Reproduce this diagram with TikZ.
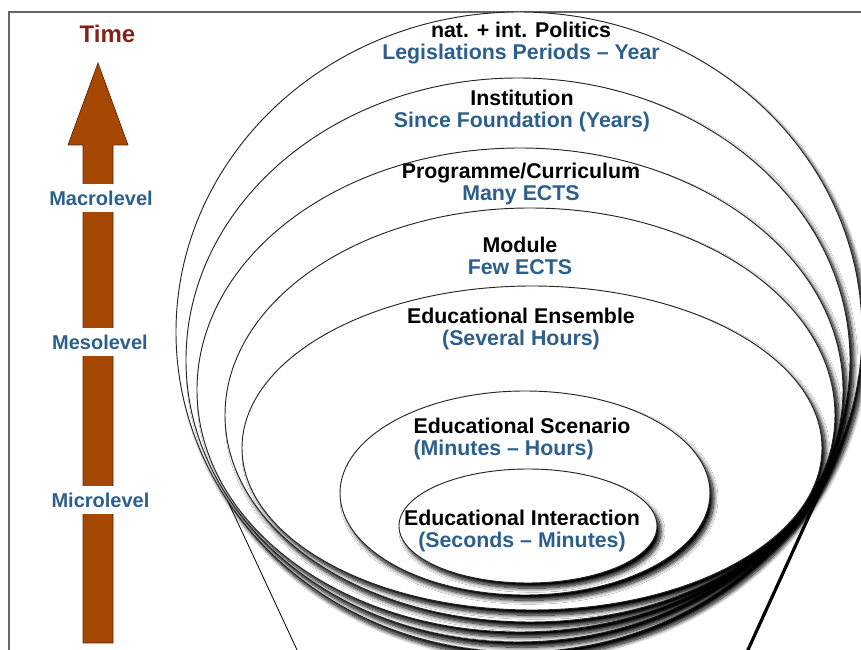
\documentclass[tikz,border=0pt]{standalone}
\usepackage{fontspec}
\setmainfont{Liberation Sans}
\usetikzlibrary{shadows.blur}
\definecolor{rust}{RGB}{166,72,4}
\definecolor{rustline}{RGB}{95,35,5}
\definecolor{timered}{RGB}{130,35,25}
\definecolor{levelblue}{RGB}{44,95,140}
\tikzset{
    ring/.style={draw=black!85, line width=0.7pt, fill=white,
        blur shadow={shadow xshift=3pt, shadow yshift=-4pt, shadow blur radius=3pt, shadow blur steps=12, shadow opacity=100}}, % the nested ellipses
    ringlabel/.style={font=\bfseries\fontsize{16}{16.5}\selectfont, align=center}, % black name + blue time span
    levellabel/.style={font=\bfseries\fontsize{15}{15}\selectfont, text=levelblue, fill=white, inner xsep=1pt, inner ysep=0pt, minimum height=21pt}, % cuts the arrow
    funnel/.style={line width=0.6pt}, % lines under the rings
}

\begin{document}
\begin{tikzpicture}[x=0.75pt, y=0.75pt]
    \useasboundingbox (0,0) rectangle (861,650);
    \draw[black!60, line width=0.8pt] (9,-5) |- (870,638);

    \coordinate (funL top) at (190,230);
    \coordinate (funL bot) at (298,-2);
    \coordinate (funR top) at (830,180);
    \coordinate (funR bot) at (747,-2);
    \draw[funnel] (funL top) -- (funL bot);
    \draw[funnel, line width=2.4pt] (funR top) -- (funR bot);

    % rings, outer to inner
    \path[ring] (519,318) ellipse [x radius=343, y radius=320];
    \path[ring] (518,290) ellipse [x radius=332, y radius=282];
    \path[ring] (520,260) ellipse [x radius=323, y radius=242];
    \path[ring] (530,235) ellipse [x radius=305, y radius=207];
    \path[ring] (532,202) ellipse [x radius=290, y radius=162];
    \path[ring] (525,157) ellipse [x radius=185, y radius=102];
    \path[ring] (528,124) ellipse [x radius=129, y radius=57];

    \node[ringlabel] (politics) at (521,606.5) {nat. + int. Politics\\\textcolor{levelblue}{Legislations Periods – Year}};
    \node[ringlabel] (institution) at (522,539) {Institution\\\textcolor{levelblue}{Since Foundation (Years)}};
    \node[ringlabel] (programme) at (521,466) {Programme/Curriculum\\\textcolor{levelblue}{Many ECTS}};
    \node[ringlabel] (module) at (520,394) {Module\\\textcolor{levelblue}{Few ECTS}};
    \node[ringlabel] (ensemble) at (521,321.5) {Educational Ensemble\\\textcolor{levelblue}{(Several Hours)}};
    \node[ringlabel, align=left] (scenario) at (522,211.5) {Educational Scenario\\\textcolor{levelblue}{(Minutes – Hours)}};
    \node[ringlabel] (interaction) at (522,119) {Educational Interaction\\\textcolor{levelblue}{(Seconds – Minutes)}};

    % time arrow
    \fill[rust, draw=rustline, line width=0.5pt] (83,7) -- (83,505) -- (68,505) -- (98,587) -- (128,505) -- (113,505) -- (113,7) -- cycle;
    \node[font=\bfseries\fontsize{18}{18}\selectfont, text=timered] (time) at (107.5,616) {Time};
    \node[levellabel] (macro) at (101,452) {Macrolevel};
    \node[levellabel] (meso) at (100,308) {Mesolevel};
    \node[levellabel] (micro) at (100.5,150) {Microlevel};
\end{tikzpicture}
\end{document}
